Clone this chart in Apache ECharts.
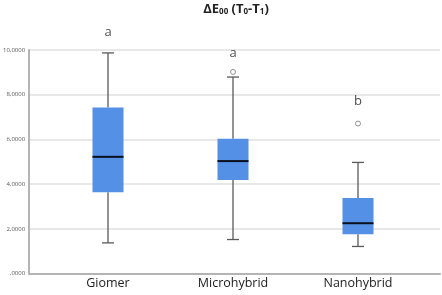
<!DOCTYPE html>
<html>
<head>
<meta charset="utf-8">
<script src="https://cdn.jsdelivr.net/npm/echarts@6/dist/echarts.min.js"></script>
<style>
  html, body { margin: 0; padding: 0; background: #fff; }
  #main { width: 442px; height: 295px; }
</style>
</head>
<body>
<div id="main"></div>
<script>
// 分组与箱线图数据 [min, Q1, median, Q3, max]
var categories = ['Giomer', 'Microhybrid', 'Nanohybrid'];
var boxData = [
    [1.37, 3.63, 5.22, 7.43, 9.87],
    [1.52, 4.18, 5.03, 6.03, 8.79],
    [1.21, 1.76, 2.25, 3.38, 4.97]
];
// 离群点 [组序号, 值]
var outliers = [
    [1, 9.02],
    [2, 6.71]
];
// 显著性字母及其高度
var letters = ['a', 'a', 'b'];
var letterY = [10.8, 9.85, 7.72];
var yTicks = [0, 2, 4, 6, 8, 10];

var myChart = echarts.init(document.getElementById('main'));

var fontFamily = '"Open Sans", "Noto Sans", sans-serif';

function fmtTick(v) {
    // SPSS 风格: 10,0000 / ,0000
    var s = v === 0 ? '' : String(v);
    return s + ',0000';
}

var option = {
    animation: false,
    backgroundColor: '#fff',
    title: {
        text: '{b|ΔE}{s|00}{b| (T}{s|0}{b|-T}{s|1}{b|)}',
        left: 231,
        top: -3,
        textAlign: 'center',
        textStyle: {
            rich: {
                b: { fontSize: 13, fontWeight: 'bold', color: '#222', fontFamily: fontFamily },
                s: { fontSize: 8, fontWeight: 'bold', color: '#222', fontFamily: fontFamily, verticalAlign: 'bottom', padding: [6, 0, 0, 0] }
            }
        }
    },
    grid: [
        { left: 25, right: 2, top: 50, bottom: 21.5 },
        { left: 45.5, right: 21.5, top: 50, bottom: 21.5 }
    ],
    xAxis: [
        {
            gridIndex: 0, type: 'value', min: 0, max: 1,
            axisLine: { show: true, lineStyle: { color: '#b4b4b4', width: 2 } },
            axisTick: { show: false }, axisLabel: { show: false }, splitLine: { show: false }
        },
        {
            gridIndex: 1, type: 'category', data: categories,
            axisLine: { show: false }, axisTick: { show: false },
            axisLabel: { color: '#222', fontSize: 12.5, margin: 3, fontFamily: fontFamily }
        }
    ],
    yAxis: [
        {
            gridIndex: 0, type: 'value', min: 0, max: 10, interval: 2,
            axisLine: { show: true, lineStyle: { color: '#b4b4b4', width: 2 } },
            axisTick: { show: false },
            axisLabel: { fontSize: 6, color: '#555', margin: 4, fontFamily: fontFamily, formatter: fmtTick },
            splitLine: { show: true, lineStyle: { color: '#e0e0e0', width: 1.5 } }
        },
        {
            gridIndex: 1, type: 'value', min: 0, max: 10,
            axisLine: { show: false }, axisTick: { show: false },
            axisLabel: { show: false }, splitLine: { show: false }
        }
    ],
    series: [
        {
            type: 'custom',
            xAxisIndex: 1,
            yAxisIndex: 1,
            data: boxData.map(function (d, i) { return [i].concat(d); }),
            renderItem: function (params, api) {
                var i = api.value(0);
                var pMin = api.coord([i, api.value(1)]);
                var pQ1 = api.coord([i, api.value(2)]);
                var pMed = api.coord([i, api.value(3)]);
                var pQ3 = api.coord([i, api.value(4)]);
                var pMax = api.coord([i, api.value(5)]);
                var x = pMed[0];
                var bw = 31, cw = 12;
                var grey = { stroke: '#5a5a5a', lineWidth: 1.3 };
                return {
                    type: 'group',
                    children: [
                        { type: 'line', shape: { x1: x, y1: pMax[1], x2: x, y2: pQ3[1] }, style: grey },
                        { type: 'line', shape: { x1: x, y1: pQ1[1], x2: x, y2: pMin[1] }, style: grey },
                        { type: 'line', shape: { x1: x - cw / 2, y1: pMax[1], x2: x + cw / 2, y2: pMax[1] }, style: grey },
                        { type: 'line', shape: { x1: x - cw / 2, y1: pMin[1], x2: x + cw / 2, y2: pMin[1] }, style: grey },
                        { type: 'rect', shape: { x: x - bw / 2, y: pQ3[1], width: bw, height: pQ1[1] - pQ3[1] }, style: { fill: '#5490e5' } },
                        { type: 'line', shape: { x1: x - bw / 2, y1: pMed[1], x2: x + bw / 2, y2: pMed[1] }, style: { stroke: '#0a0f20', lineWidth: 2 } }
                    ]
                };
            }
        },
        {
            type: 'scatter',
            xAxisIndex: 1,
            yAxisIndex: 1,
            symbol: 'circle',
            symbolSize: 5,
            itemStyle: { color: '#fff', borderColor: '#777', borderWidth: 1 },
            data: outliers
        },
        {
            type: 'scatter',
            xAxisIndex: 1,
            yAxisIndex: 1,
            clip: false,
            symbolSize: 0,
            label: {
                show: true,
                position: 'inside',
                fontSize: 13,
                color: '#222',
                fontFamily: fontFamily,
                formatter: function (p) { return letters[p.dataIndex]; }
            },
            data: letterY.map(function (v, i) { return [i, v]; })
        }
    ]
};

myChart.setOption(option);
</script>
</body>
</html>
